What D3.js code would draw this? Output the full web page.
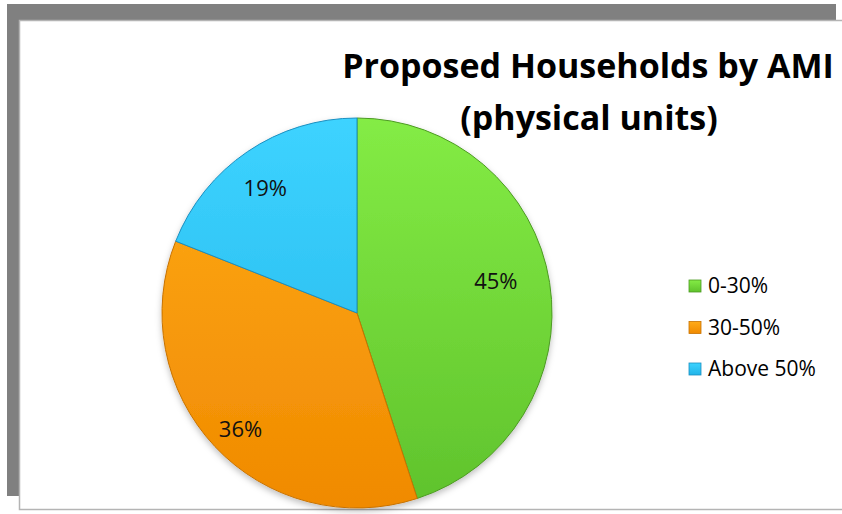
<!DOCTYPE html>
<meta charset="utf-8">
<style>
body { margin: 0; background: #fff; }
.title { font: bold 34px "Open Sans", sans-serif; text-anchor: middle; fill: #000; }
.label { font: 22px "Open Sans", sans-serif; text-anchor: middle; fill: #111; }
.legend text { font: 21px "Open Sans", sans-serif; fill: #000; }
</style>
<svg width="842" height="514"></svg>
<script src="https://cdn.jsdelivr.net/npm/d3@7"></script>
<script>

var categories = ["0-30%", "30-50%", "Above 50%"],
    values = [45, 36, 19],
    topColors = ["#84ec45", "#ffab1a", "#3dd3ff"],
    bottomColors = ["#5fc22c", "#f08a00", "#22b4e8"],
    edgeColors = ["#4c9a22", "#c77200", "#1a8fc0"];

var svg = d3.select("svg");

// frame
svg.append("rect").attr("x", 7).attr("y", 4).attr("width", 829).attr("height", 16).attr("fill", "#808080");
svg.append("rect").attr("x", 7).attr("y", 4).attr("width", 12).attr("height", 492).attr("fill", "#808080");
svg.append("rect").attr("x", 19.5).attr("y", 20.5).attr("width", 830).attr("height", 489)
    .attr("fill", "#fff").attr("stroke", "#b4b4b4").attr("stroke-width", 1.5);

var defs = svg.append("defs");
defs.append("filter").attr("id", "shadow").attr("x", "-10%").attr("y", "-10%").attr("width", "120%").attr("height", "120%")
  .append("feDropShadow").attr("dx", 0).attr("dy", 3).attr("stdDeviation", 3)
    .attr("flood-color", "#000").attr("flood-opacity", 0.25);

categories.forEach(function(c, i) {
  var g = defs.append("linearGradient").attr("id", "grad" + i)
      .attr("gradientUnits", "userSpaceOnUse")
      .attr("x1", 0).attr("y1", -195).attr("x2", 0).attr("y2", 195);
  g.append("stop").attr("offset", "0%").attr("stop-color", topColors[i]);
  g.append("stop").attr("offset", "100%").attr("stop-color", bottomColors[i]);
  var lg = defs.append("linearGradient").attr("id", "lg" + i).attr("x1", 0).attr("y1", 0).attr("x2", 0).attr("y2", 1);
  lg.append("stop").attr("offset", "0%").attr("stop-color", topColors[i]);
  lg.append("stop").attr("offset", "100%").attr("stop-color", bottomColors[i]);
});

var cx = 357, cy = 313, r = 195;

var pie = d3.pie().sort(null).value(function(d) { return d; });
var arc = d3.arc().innerRadius(0).outerRadius(r);
var labelArc = d3.arc().innerRadius(r * 0.7).outerRadius(r * 0.7);

var arcs = pie(values);

var chart = svg.append("g")
    .attr("transform", "translate(" + cx + "," + cy + ")");

chart.append("g").attr("filter", "url(#shadow)")
  .selectAll("path")
  .data(arcs)
  .join("path")
    .attr("d", arc)
    .attr("fill", function(d, i) { return "url(#grad" + i + ")"; })
    .attr("stroke", function(d, i) { return edgeColors[i]; })
    .attr("stroke-width", 1);

var labelOffsets = [[4, -10], [-17, 23], [-15, -12]];

chart.selectAll("text.label")
  .data(arcs)
  .join("text")
    .attr("class", "label")
    .attr("transform", function(d, i) {
      var p = labelArc.centroid(d);
      return "translate(" + (p[0] + labelOffsets[i][0]) + "," + (p[1] + labelOffsets[i][1]) + ")";
    })
    .attr("dy", "0.35em")
    .text(function(d) { return d.data + "%"; });

// title
svg.append("text").attr("class", "title").attr("x", 588).attr("y", 78).text("Proposed Households by AMI");
svg.append("text").attr("class", "title").attr("x", 589).attr("y", 130).text("(physical units)");

// legend
var legend = svg.append("g").attr("class", "legend")
    .attr("transform", "translate(689,286)");

var item = legend.selectAll("g")
  .data(categories)
  .join("g")
    .attr("transform", function(d, i) { return "translate(0," + (i * 41.5) + ")"; });

item.append("rect")
    .attr("x", 0).attr("y", -6).attr("width", 12).attr("height", 12)
    .attr("fill", function(d, i) { return "url(#lg" + i + ")"; })
    .attr("stroke", function(d, i) { return edgeColors[i]; })
    .attr("stroke-width", 0.8);

item.append("text")
    .attr("x", 19).attr("y", 0).attr("dy", "0.35em")
    .text(function(d) { return d; });

</script>
